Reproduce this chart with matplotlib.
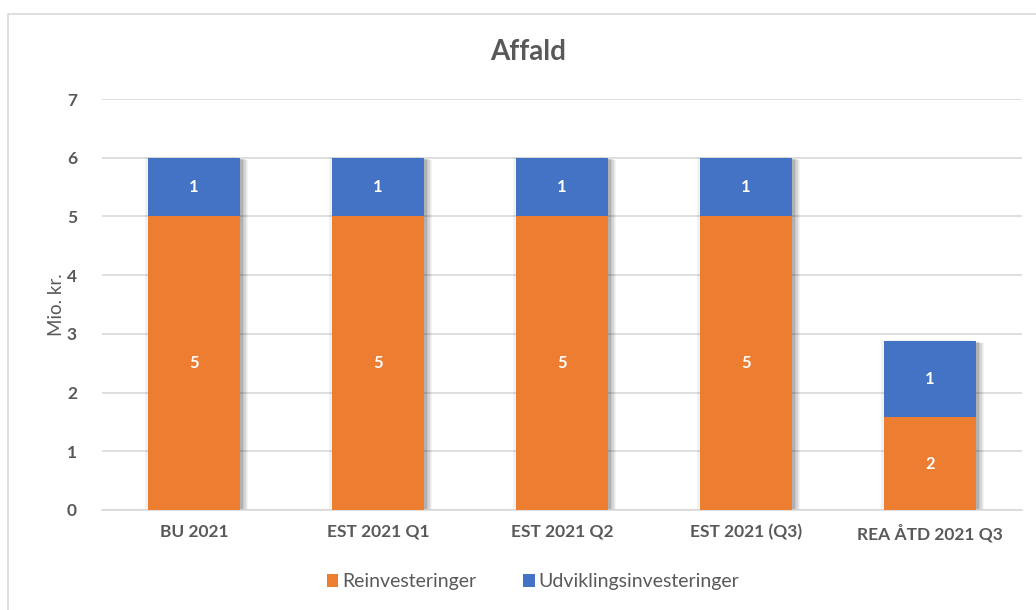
import matplotlib
matplotlib.use("Agg")
import matplotlib.pyplot as plt
import matplotlib.patheffects as pe
from matplotlib.patches import Rectangle
import numpy as np

plt.rcParams['font.family'] = ['Lato', 'DejaVu Sans']

categories = ["BU 2021", "EST 2021 Q1", "EST 2021 Q2", "EST 2021 (Q3)", "REA ÅTD 2021 Q3"]
reinvest = [5.0, 5.0, 5.0, 5.0, 1.58]
udvikling = [1.0, 1.0, 1.0, 1.0, 1.30]
series_names = ["Reinvesteringer", "Udviklingsinvesteringer"]
yticks = [0, 1, 2, 3, 4, 5, 6, 7]

c_orange = "#ED7D31"
c_blue = "#4472C4"
gray = "#595959"

fig = plt.figure(figsize=(10.36, 6.10), dpi=100)
fig.patches.append(Rectangle((8/1036, -0.1), 1.2, 1 - 14/610 + 0.1, transform=fig.transFigure,
                             fill=False, edgecolor="#D9D9D9", linewidth=1.2))
ax = fig.add_axes([102/1036, 1 - 510/610, (1022 - 102)/1036, (510 - 99)/610])

x = np.arange(len(categories))
w = 0.5
shadow = [pe.SimplePatchShadow(offset=(o, -o * 0.3), shadow_rgbFace="black", alpha=a)
          for o, a in [(6, 0.04), (5, 0.05), (4, 0.07), (3, 0.08), (2, 0.1), (-2, 0.05)]] + [pe.Normal()]
b1 = ax.bar(x, reinvest, w, color=c_orange, label=series_names[0], zorder=3)
b2 = ax.bar(x, udvikling, w, bottom=reinvest, color=c_blue, label=series_names[1], zorder=3)
sh = ax.bar(x, np.array(reinvest) + np.array(udvikling), w, color="white", zorder=2.5)
for p in sh:
    p.set_path_effects(shadow)

for i in range(len(categories)):
    ax.text(x[i], reinvest[i] / 2, f"{reinvest[i]:.0f}", ha="center", va="center",
            color="white", fontsize=12, fontweight="bold", zorder=4)
    ax.text(x[i], reinvest[i] + udvikling[i] / 2, f"{udvikling[i]:.0f}", ha="center", va="center",
            color="white", fontsize=12, fontweight="bold", zorder=4)

ax.set_xlim(-0.5, len(categories) - 0.5)
ax.set_ylim(0, 7)
ax.set_yticks(yticks)
ax.set_yticklabels([str(t) for t in yticks], fontsize=12.5, fontweight="bold", color=gray)
ax.set_xticks(x)
ax.set_xticklabels(categories, fontsize=12.5, fontweight="bold", color=gray)
ax.tick_params(axis="both", length=0)
ax.tick_params(axis="y", pad=18)
ax.tick_params(axis="x", pad=10)
ax.grid(axis="y", color="#D9D9D9", linewidth=1.2, zorder=0)
ax.set_axisbelow(True)
for s in ["top", "right", "left"]:
    ax.spines[s].set_visible(False)
ax.spines["bottom"].set_color("#D9D9D9")
ax.spines["bottom"].set_linewidth(1.2)
ax.set_ylabel("Mio. kr.", fontsize=13.5, color=gray, labelpad=1)

fig.text(528/1036, 1 - 52/610, "Affald", ha="center", va="center", fontsize=20,
         fontweight="bold", color=gray)

leg = fig.legend(handles=[b1, b2], labels=series_names, loc="center", bbox_to_anchor=(533/1036, 1 - 582/610),
                 ncol=2, frameon=False, fontsize=14, handlelength=0.6, handleheight=0.6,
                 columnspacing=2.4, handletextpad=0.2)
for t in leg.get_texts():
    t.set_color(gray)

fig.savefig("out.png", dpi=100)
